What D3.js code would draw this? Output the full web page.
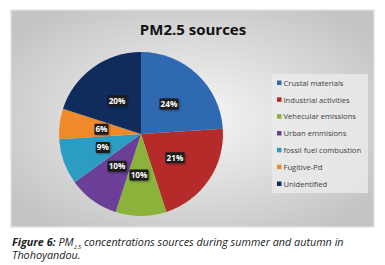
<!DOCTYPE html>
<html>
<head>
<meta charset="utf-8">
<script src="https://cdn.jsdelivr.net/npm/d3@7"></script>
<style>
  body { margin: 0; background: #fff; }
  svg { display: block; }
</style>
</head>
<body>
<svg id="chart" width="385" height="265"></svg>
<script>
// data
const sources = ["Crustal materials", "Industrial activities", "Vehecular emissions",
  "Urban emmisions", "fossil fuel combustion", "Fugitive-Pd", "Unidentified"]
const shares = [24, 21, 10, 10, 9, 6, 20]
const colours = ["#2e69b2", "#b52b2a", "#8bb23a", "#6b3f98", "#2b9dc2", "#f0892a", "#0f2c5c"]

const svg = d3.select("#chart")

// chart frame with soft radial shading
const defs = svg.append("defs")
const grad = defs.append("radialGradient").attr("id", "bg")
  .attr("cx", "50%").attr("cy", "50%").attr("r", "62%")
grad.append("stop").attr("offset", "0%").attr("stop-color", "#f7f7f7")
grad.append("stop").attr("offset", "100%").attr("stop-color", "#c4c4c4")

const shadow = defs.append("filter").attr("id", "sh")
  .attr("x", "-20%").attr("y", "-20%").attr("width", "150%").attr("height", "150%")
shadow.append("feDropShadow").attr("dx", 1).attr("dy", 1).attr("stdDeviation", 0.8)
  .attr("flood-color", "#000").attr("flood-opacity", 0.4)

svg.append("rect")
  .attr("x", 11).attr("y", 10).attr("width", 363).attr("height", 217)
  .attr("fill", "url(#bg)").attr("stroke", "#e2e2e2").attr("stroke-width", 1.5)

svg.append("text")
  .attr("x", 193).attr("y", 35)
  .attr("text-anchor", "middle")
  .attr("font-family", "'Open Sans', sans-serif")
  .attr("font-weight", "bold").attr("font-size", 15)
  .attr("fill", "#111")
  .text("PM2.5 sources")

// pie
const cx = 141, cy = 134, r = 82
const pie = d3.pie().sort(null).value(d => d)
const arcs = pie(shares)
const arc = d3.arc().innerRadius(0).outerRadius(r)
const labelArc = d3.arc().innerRadius(r * 0.56).outerRadius(r * 0.56)

const g = svg.append("g").attr("transform", `translate(${cx},${cy})`)
g.selectAll("path").data(arcs).enter().append("path")
  .attr("d", arc)
  .attr("fill", (d, i) => colours[i])

// data labels: black boxes, white bold text (nudged like the original)
const labelOffsets = [[-3.5, 3.5], [-4, -2], [-2, -5], [3, -5], [5, -2], [6, 1], [3, 4]]
const lab = g.selectAll(".lab").data(arcs).enter().append("g")
  .attr("class", "lab")
  .attr("transform", (d, i) => {
    const p = labelArc.centroid(d)
    return `translate(${p[0] + labelOffsets[i][0]},${p[1] + labelOffsets[i][1]})`
  })
lab.append("rect")
  .attr("x", (d, i) => shares[i] >= 10 ? -9.5 : -7)
  .attr("y", -5.5)
  .attr("width", (d, i) => shares[i] >= 10 ? 19 : 14)
  .attr("height", 11)
  .attr("rx", 1)
  .attr("fill", "#1b1b1b")
  .attr("filter", "url(#sh)")
lab.append("text")
  .attr("text-anchor", "middle").attr("dy", "0.35em")
  .attr("font-family", "'Open Sans', sans-serif")
  .attr("font-weight", "bold").attr("font-size", 8.2)
  .attr("fill", "#fff")
  .text((d, i) => shares[i] + "%")

// legend
const legY = d3.scalePoint().domain(sources).range([83, 184])
svg.append("rect")
  .attr("x", 272).attr("y", 74).attr("width", 96).attr("height", 119)
  .attr("fill", "#ebebeb").attr("opacity", 0.8)
const leg = svg.selectAll(".leg").data(sources).enter().append("g")
  .attr("class", "leg")
  .attr("transform", d => `translate(277,${legY(d)})`)
leg.append("rect")
  .attr("x", 0).attr("y", -2.5).attr("width", 4.5).attr("height", 4.5)
  .attr("fill", (d, i) => colours[i])
leg.append("text")
  .attr("x", 6.5).attr("dy", "0.35em")
  .attr("font-family", "'Open Sans', sans-serif")
  .attr("font-size", 7.6)
  .attr("fill", "#404040")
  .text(d => d)

// caption
const cap = svg.append("text")
  .attr("x", 12).attr("y", 246)
  .attr("font-family", "'Open Sans', sans-serif")
  .attr("font-style", "italic").attr("font-size", 10.8)
  .attr("fill", "#222")
cap.append("tspan").attr("font-weight", "bold").text("Figure 6: ")
cap.append("tspan").text("PM")
cap.append("tspan").attr("font-size", 5.5).attr("dy", 2.5).text("2.5")
cap.append("tspan").attr("dy", -2.5).text(" concentrations sources during summer and autumn in")
svg.append("text")
  .attr("x", 12).attr("y", 259)
  .attr("font-family", "'Open Sans', sans-serif")
  .attr("font-style", "italic").attr("font-size", 10.8)
  .attr("fill", "#222")
  .text("Thohoyandou.")
</script>
</body>
</html>
